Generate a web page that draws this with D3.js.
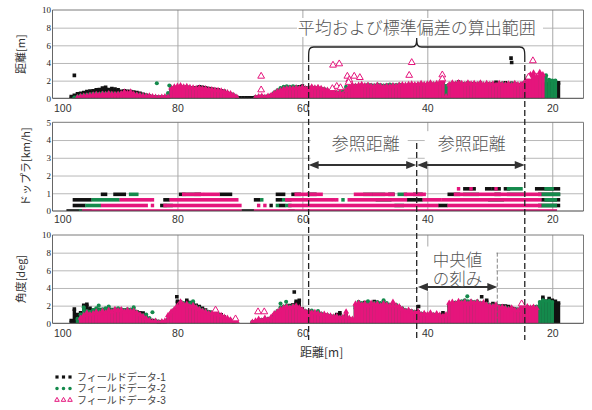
<!DOCTYPE html>
<html lang="ja">
<head>
<meta charset="utf-8">
<title>距離・ドップラ・角度</title>
<script src="https://cdn.jsdelivr.net/npm/d3@7/dist/d3.min.js"></script>
<style>
  html, body { margin: 0; padding: 0; background: #fff; }
  svg { display: block; }
</style>
</head>
<body>
<svg id="chart" width="592" height="410"></svg>
<script>
// ---- tick labels and series names ----
const xTicks = [100, 80, 60, 40, 20];
const xGridTicks = [80, 60, 40, 20];
const rangeTicks = [0, 2, 4, 6, 8, 10];
const dopplerTicks = [0, 1, 2, 3, 4, 5];
const angleTicks = [0, 2, 4, 6, 8, 10];
const seriesNames = ['フィールドデータ-1', 'フィールドデータ-2', 'フィールドデータ-3'];

// ---- sampling positions along the track [m] ----
const distances = [
  97,96.5,96,95.5,95,94.5,94,93.5,93,92.5,
  92,91.5,91,90.5,90,89.5,89,88.5,88,87.5,
  87,86.5,86,85.5,85,84.5,84,83.5,83,82.5,
  82,81.5,81,80.5,80,79.5,79,78.5,78,77.5,
  77,76.5,76,75.5,75,74.5,74,73.5,73,72.5,
  72,71.5,71,70.5,70,69.5,69,68.5,68,67.5,
  67,66.5,66,65.5,65,64.5,64,63.5,63,62.5,
  62,61.5,61,60.5,60,59.5,59,58.5,58,57.5,
  57,56.5,56,55.5,55,54.5,54,53.5,53,52.5,
  52,51.5,51,50.5,50,49.5,49,48.5,48,47.5,
  47,46.5,46,45.5,45,44.5,44,43.5,43,42.5,
  42,41.5,41,40.5,40,39.5,39,38.5,38,37.5,
  37,36.5,36,35.5,35,34.5,34,33.5,33,32.5,
  32,31.5,31,30.5,30,29.5,29,28.5,28,27.5,
  27,26.5,26,25.5,25,24.5,24,23.5,23,22.5,
  22,21.5,21,20.5,20,19.5,19,18.5,18
];

// ---- 距離 [m]: upper value of each scan column ----
const rangeBlack = [
  0.2,0.35,0.5,0.57,0.64,0.75,0.83,0.85,0.95,1.0,
  1.15,1.25,1.0,1.1,1.05,0.95,0.8,0.85,0.8,0.75,
  0.72,0.65,0.57,0.45,0.35,0.25,0.15,0.12,0.1,0.1,
  0.1,0.1,1.0,1.1,1.2,1.25,1.2,1.25,1.15,1.2,
  1.2,1.3,1.25,1.2,1.1,1.05,1.0,0.95,0.85,0.8,
  0.6,0.5,0.3,0.1,0.05,0.05,0.05,0.05,0.05,0.1,
  0.15,0.2,0.1,0.2,0.3,0.5,0.7,0.85,1.0,1.05,
  1.1,1.05,1.1,1.3,1.4,1.2,1.1,1.15,1.1,1.0,
  1.0,0.9,0.85,0.7,0.6,0.5,0.5,0.4,0.8,1.1,
  1.3,1.3,1.35,1.4,1.3,1.35,1.3,1.25,1.3,1.3,
  1.2,1.3,1.25,1.3,1.3,1.4,1.4,1.4,1.5,1.5,
  1.45,1.5,1.55,1.5,1.5,1.6,1.5,1.6,1.65,1.7,
  1.35,1.5,1.6,1.6,1.85,1.65,1.55,1.7,1.6,1.65,
  1.55,1.7,1.5,1.65,1.55,1.6,1.8,1.6,1.55,1.75,
  1.6,1.7,1.65,1.5,1.55,1.7,1.6,1.5,1.4,1.5,
  1.5,1.55,1.6,1.7,1.8,1.8,1.75,null,null
];
const rangeGreen = [
  null,0.1,0.2,0.3,0.35,0.4,0.45,0.5,0.55,0.5,
  0.6,0.55,0.6,0.55,0.5,0.55,0.6,0.6,0.55,0.6,
  0.5,0.45,0.4,0.35,0.3,0.25,0.2,0.15,0.1,0.1,
  0.1,0.6,1.15,1.25,1.3,1.35,1.25,1.3,1.2,1.15,
  1.1,1.15,1.1,1.05,1.0,0.95,0.9,0.85,0.8,0.7,
  0.6,0.5,0.3,0.1,null,null,null,null,null,0.1,
  0.2,0.2,0.15,0.25,0.35,0.65,0.9,1.15,1.3,1.35,
  1.3,1.35,1.3,1.2,1.25,1.15,1.2,1.25,1.2,1.2,
  1.1,1.05,0.9,0.8,0.7,0.65,0.7,0.8,1.3,1.2,
  1.4,1.45,1.4,1.5,1.45,1.55,1.5,1.45,1.55,1.5,
  1.45,1.5,1.55,1.5,1.5,1.55,1.5,1.45,1.55,1.5,
  1.5,1.55,1.6,1.55,1.6,1.7,1.6,1.65,1.7,1.6,
  1.4,1.5,1.7,1.6,1.7,1.65,1.6,1.7,1.6,1.65,
  1.55,1.7,1.5,1.65,1.55,1.6,1.5,1.65,1.7,1.6,
  1.6,1.65,1.6,1.5,1.55,1.7,1.9,2.2,2.3,2.2,
  2.4,2.5,2.6,2.1,2.0,2.0,null,null,null
];
const rangePink = [
  null,null,0.1,0.2,0.25,0.3,0.35,0.4,0.45,0.4,
  0.5,0.45,0.55,0.5,0.45,0.5,0.55,0.75,0.6,0.75,
  0.5,0.4,0.35,0.3,0.25,0.3,0.2,0.15,0.1,0.15,
  0.2,0.15,1.2,1.3,1.4,1.45,1.3,1.35,1.25,1.2,
  1.15,1.2,1.1,1.1,1.0,1.0,0.95,0.9,0.85,0.75,
  0.65,0.55,0.35,0.15,null,null,null,null,null,0.1,
  0.2,0.25,0.15,0.25,0.35,0.6,0.8,0.9,1.05,1.1,
  1.15,1.1,1.2,1.15,1.25,1.1,1.2,1.3,1.2,1.25,
  1.15,1.0,0.95,0.8,0.7,0.6,0.65,0.5,0.9,1.3,
  1.5,1.4,1.5,1.6,1.45,1.5,1.4,1.35,1.5,1.4,
  1.3,1.4,1.35,1.45,1.4,1.5,1.55,1.5,1.6,1.65,
  1.55,1.6,1.7,1.6,1.65,1.75,1.6,1.7,1.8,2.0,
  0.2,1.55,1.75,1.65,1.8,1.7,1.6,1.75,1.65,1.7,
  1.6,1.75,1.55,1.7,1.6,1.65,1.5,1.7,1.6,1.55,
  1.65,1.5,1.7,1.55,1.6,1.75,2.2,2.7,2.9,2.5,
  2.95,2.7,null,null,null,null,null,null,null
];
// isolated detections above the columns: [distance, value]
const rangeBlackExtra = [[96.5, 2.6], [26.6, 4.55], [26.5, 4.05]];
const rangeGreenExtra = [[83.3, 1.7], [81.3, 1.45]];
const rangePinkExtra = [
  [66.6, 2.5], [66.6, 0.95], [55.1, 3.75], [54.1, 3.9], [42.5, 4.05], [23.1, 4.25],
  [52.8, 2.5], [51.7, 2.5], [50.8, 2.35], [52.5, 2.1], [52.6, 1.8], [37.6, 2.65],
  [37.6, 2.2], [23.8, 2.4], [42.9, 2.6], [54.5, 1.35], [53.9, 1.2], [55.2, 1.1]
];

// ---- 角度 [deg]: upper value of each scan column ----
const angleBlack = [
  0.3,1.6,1.0,1.2,2.05,2.15,1.7,1.5,1.4,1.55,
  1.5,1.6,1.45,1.55,1.5,1.4,1.5,1.5,1.45,1.5,
  1.35,1.3,1.2,1.15,0.8,0.5,0.3,0.2,0.1,0.1,
  0.1,0.3,0.8,1.5,2.5,2.4,2.2,2.6,2.35,2.2,
  2.05,1.9,1.7,1.5,1.3,1.2,1.05,1.0,0.95,0.7,
  0.5,0.3,0.15,null,null,null,null,null,0.1,0.1,
  0.2,0.3,0.4,0.3,0.5,0.9,1.2,1.5,1.7,1.8,
  2.0,2.1,2.5,2.6,1.6,1.2,1.3,1.1,1.2,1.0,
  0.9,0.95,0.8,0.8,0.7,1.0,1.2,0.6,0.9,0.5,
  0.4,1.8,2.1,2.0,2.35,2.1,2.0,2.45,2.1,1.9,
  2.1,2.0,1.9,2.0,1.9,1.8,1.5,1.3,1.4,1.2,
  1.1,1.3,0.9,1.0,0.9,1.0,0.8,0.9,0.85,1.2,
  0.7,2.0,2.2,2.1,2.3,2.2,2.1,2.0,2.2,2.1,
  2.2,2.1,2.3,2.6,2.0,2.25,2.0,1.9,1.95,1.95,
  1.9,1.7,1.6,1.45,1.7,1.6,1.8,1.7,1.8,1.6,
  1.7,2.95,2.5,2.8,2.6,2.5,2.3,null,null
];
const angleGreen = [
  null,null,0.5,1.0,1.8,1.4,1.3,1.5,1.7,1.5,
  1.6,1.7,1.9,1.5,1.6,1.7,1.6,1.5,1.6,1.55,
  1.8,1.3,1.0,0.9,1.0,0.6,0.2,0.3,0.2,0.2,
  0.2,0.5,1.2,1.4,1.9,2.2,2.3,2.0,2.3,2.5,
  1.9,1.7,1.5,1.4,1.3,1.25,1.25,1.05,0.85,0.6,
  0.5,0.35,0.2,null,null,null,null,null,0.1,0.2,
  0.3,0.4,0.3,0.5,0.6,1.0,1.4,1.8,1.9,2.0,
  1.9,2.0,1.9,1.7,1.45,1.4,1.3,1.45,1.2,1.4,
  1.1,0.9,0.95,0.8,0.8,0.7,0.65,0.6,0.8,0.5,
  0.45,2.0,2.45,2.3,2.2,2.5,2.2,2.3,2.4,2.3,
  2.6,2.3,2.1,2.2,2.1,1.8,1.7,1.5,1.45,1.4,
  1.3,1.2,1.1,1.05,0.95,1.1,1.0,1.0,0.9,0.8,
  0.8,2.1,2.3,2.35,2.4,2.5,2.6,2.5,2.5,2.4,
  2.5,2.3,2.2,2.2,2.1,2.0,1.9,1.95,1.8,1.8,
  1.7,1.6,1.55,1.6,1.7,1.75,1.8,1.7,1.7,1.9,
  2.4,2.6,2.5,2.55,2.4,null,null,null,null
];
const anglePink = [
  null,null,null,0.6,0.9,1.2,1.0,1.1,1.3,1.1,
  1.4,1.2,1.5,1.3,1.6,1.45,1.55,1.3,1.5,1.35,
  1.4,1.2,1.0,0.8,0.55,0.35,0.2,0.25,0.1,0.2,
  0.3,0.9,1.3,1.6,2.0,2.45,2.1,2.2,1.9,2.05,
  1.8,1.6,1.4,1.3,1.15,1.1,1.2,1.0,0.9,0.7,
  0.6,0.4,0.25,0.2,null,null,null,null,0.15,0.3,
  0.5,0.3,0.6,0.4,0.7,1.1,1.3,1.6,1.8,1.9,
  1.75,1.9,2.0,1.8,1.5,1.3,1.35,1.2,1.25,1.1,
  1.0,1.05,0.9,0.85,0.75,0.8,0.6,0.7,1.3,0.6,
  0.5,2.2,2.3,2.1,2.25,2.0,2.3,2.15,2.2,2.0,
  2.25,2.1,2.0,2.4,2.0,1.9,1.6,1.4,1.5,1.3,
  1.2,1.35,1.0,1.15,1.0,1.2,0.9,1.1,0.95,0.8,
  1.0,2.3,2.4,2.2,2.5,2.3,2.4,2.2,2.45,2.3,
  2.4,2.2,2.35,2.1,2.0,1.9,2.1,1.8,1.85,1.7,
  1.6,1.75,1.5,1.45,1.8,1.7,1.9,1.75,1.85,1.7,
  null,null,null,null,null,null,null,null,null
];
const angleBlackExtra = [[80.1, 3.0], [61.3, 3.55], [41.4, 1.9], [31.3, 3.0]];
const angleGreenExtra = [[92.6, 2.0], [84.0, 1.25], [63.5, 2.25], [62.6, 2.45], [33.6, 3.05]];
const anglePinkExtra = [[73.9, 1.5], [70.7, 0.5], [67.1, 1.3], [66.1, 1.3], [24.9, 2.2]];

// ---- ドップラ [km/h]: runs of detections per velocity bin [level, from, to] ----
const dopplerLevels = [0, 0.31, 0.63, 0.94, 1.25];
const dopplerBlack = [
  [1.25,34.0,32.5],[1.25,30.5,30.0],[1.25,29.5,28.5],[1.25,27.5,27.0],[1.25,22.5,19.0],
  [0.94,92.0,91.5],[0.94,90.0,88.5],[0.94,79.5,79.0],[0.94,77.0,76.5],[0.94,73.0,71.5],
  [0.94,64.0,63.0],[0.94,61.5,60.5],[0.94,59.0,58.0],[0.94,46.0,45.5],[0.94,42.0,41.0],
  [0.94,36.5,35.0],[0.94,29.0,28.5],[0.94,22.0,19.0],
  [0.63,96.5,94.0],[0.63,82.0,81.5],[0.63,67.5,67.0],[0.63,64.0,63.5],[0.63,43.0,41.0],[0.63,21.5,19.0],
  [0.31,96.5,95.0],[0.31,82.5,82.0],[0.31,65.0,65.0],[0.31,63.5,63.0],[0.31,38.0,37.0],[0.31,22.0,19.0],
  [0,97.5,95.5],[0,69.5,68.0]
];
const dopplerGreen = [
  [1.25,27.0,25.0],[1.25,21.0,20.0],
  [0.94,87.5,86.5],[0.94,78.5,77.5],[0.94,50.0,47.0],[0.94,44.5,43.5],[0.94,34.0,32.0],
  [0.94,27.0,24.5],[0.94,21.5,19.0],
  [0.63,93.5,89.5],[0.63,66.5,66.5],[0.63,63.0,62.0],[0.63,53.5,53.5],[0.63,48.0,46.0],
  [0.63,30.0,28.0],[0.63,21.0,19.5],
  [0.31,94.5,92.5],[0.31,81.5,81.0],[0.31,64.0,64.0],[0.31,62.5,62.0],[0.31,45.0,44.0],[0.31,21.5,19.5],
  [0,95.5,94.0],[0,62.0,61.5]
];
const dopplerPink = [
  [1.25,35.0,35.0],[1.25,33.0,33.0],[1.25,29.0,29.0],
  [0.94,79.0,76.0],[0.94,75.5,73.5],[0.94,61.0,58.0],[0.94,57.5,57.0],[0.94,51.5,49.0],
  [0.94,48.5,45.5],[0.94,43.5,40.5],[0.94,35.5,22.0],
  [0.63,89.0,84.5],[0.63,84.0,84.0],[0.63,81.0,70.5],[0.63,62.5,55.5],[0.63,55.0,55.0],
  [0.63,54.5,54.5],[0.63,52.5,43.5],[0.63,40.5,38.0],[0.63,37.5,22.0],
  [0.31,92.0,85.0],[0.31,84.0,84.0],[0.31,82.0,70.0],[0.31,67.0,67.0],[0.31,66.0,66.0],
  [0.31,62.0,38.5],[0.31,36.5,22.0],
  [0,95.0,70.0],[0,67.5,19.5]
];

// ---- evaluation ranges along the track [m] ----
const calcRange = [59.0, 24.4];   // 平均および標準偏差の算出範囲
const refSplit = 41.7;            // boundary between the two 参照距離 windows
const medianStep = [41.5, 28.8];  // 中央値の刻み

// ---------------------------------------------------------------------------
const COLORS = ['#111111', '#148a4c', '#e5157c'];
const JP = "'Noto Sans CJK JP', 'Noto Sans', sans-serif";
const svg = d3.select('#chart');
const x = d3.scaleLinear().domain([100, 15]).range([52.5, 583.5]);
const [xL, xR] = x.range();

const symSquare = d3.symbol(d3.symbolSquare, 13)();
const symCircle = d3.symbol(d3.symbolCircle, 13)();
const symTri = d3.symbol(d3.symbolTriangle, 16)();
const symbols = [symSquare, symCircle, symTri];

const panels = [
  { id: 'range',   top: 10,    bottom: 98.3,  max: 10, ticks: rangeTicks,   title: '距離[m]',        titleX: 20, pad: 6.5,
    cols: [rangeBlack, rangeGreen, rangePink], extra: [rangeBlackExtra, rangeGreenExtra, rangePinkExtra] },
  { id: 'doppler', top: 122.3, bottom: 211,   max: 5,  ticks: dopplerTicks, title: 'ドップラ[km/h]', titleX: 25, pad: 5,
    runs: [dopplerBlack, dopplerGreen, dopplerPink] },
  { id: 'angle',   top: 235,   bottom: 323.3, max: 10, ticks: angleTicks,   title: '角度[deg]',      titleX: 20, pad: 6.5,
    cols: [angleBlack, angleGreen, anglePink], extra: [angleBlackExtra, angleGreenExtra, anglePinkExtra] }
];

const defs = svg.append('defs');

panels.forEach(p => {
  const y = d3.scaleLinear().domain([0, p.max]).range([p.bottom, p.top]);
  p.y = y;
  const g = svg.append('g').attr('class', 'panel-' + p.id);

  // horizontal grid
  g.append('g')
    .attr('transform', `translate(${xL},0)`)
    .call(d3.axisLeft(y).tickValues(p.ticks.filter(t => t > 0 && t < p.max))
      .tickSize(-(xR - xL)).tickFormat(''))
    .call(a => a.select('.domain').remove())
    .selectAll('line').attr('stroke', '#b8b8b8');

  // vertical grid
  g.append('g')
    .attr('transform', `translate(0,${p.bottom})`)
    .call(d3.axisBottom(x).tickValues(xGridTicks).tickSize(-(p.bottom - p.top)).tickFormat(''))
    .call(a => a.select('.domain').remove())
    .selectAll('line').attr('stroke', '#a8a8a8');

  // data, clipped to the plot area
  defs.append('clipPath').attr('id', 'clip-' + p.id)
    .append('rect').attr('x', xL).attr('y', p.top - 6)
    .attr('width', xR - xL).attr('height', p.bottom - p.top + 6);
  const data = g.append('g').attr('clip-path', `url(#clip-${p.id})`);

  if (p.cols) {
    p.cols.forEach((vals, s) => {
      const pts = distances.map((d, i) => ({ d, v: vals[i] })).filter(q => q.v != null);
      const sg = data.append('g').attr('fill', COLORS[s]);
      sg.selectAll('rect').data(pts).join('rect')
        .attr('x', q => x(q.d) - 1.7).attr('width', 3.4)
        .attr('y', q => y(q.v)).attr('height', q => y(0) - y(q.v));
      sg.selectAll('path').data(pts).join('path')
        .attr('transform', q => `translate(${x(q.d)},${y(q.v)})`)
        .attr('d', symbols[s]);
    });
    p.extra.forEach((pts, s) => {
      const eg = data.append('g');
      eg.selectAll('path').data(pts).join('path')
        .attr('transform', q => `translate(${x(q[0])},${y(q[1])})`)
        .attr('d', s === 2 ? d3.symbol(d3.symbolTriangle, 20)() : symbols[s])
        .attr('fill', s === 2 ? '#fff' : COLORS[s])
        .attr('stroke', s === 2 ? COLORS[2] : 'none')
        .attr('stroke-width', 1);
    });
  }

  if (p.runs) {
    p.runs.forEach((runs, s) => {
      data.append('g').attr('fill', COLORS[s])
        .selectAll('rect').data(runs).join('rect')
        .attr('x', r => x(r[1]) - 1.7)
        .attr('width', r => x(r[2]) - x(r[1]) + 3.4)
        .attr('y', r => y(r[0]) - 1.8)
        .attr('height', 3.6);
    });
  }

  // frame
  g.append('path')
    .attr('d', `M${xL},${p.top}H${xR}V${p.bottom}`)
    .attr('fill', 'none').attr('stroke', '#7a7a7a');
  g.append('line').attr('x1', xL).attr('x2', xL).attr('y1', p.top).attr('y2', p.bottom)
    .attr('stroke', '#666');
  g.append('line').attr('x1', xL).attr('x2', xR).attr('y1', p.bottom).attr('y2', p.bottom)
    .attr('stroke', '#444');

  // y tick labels
  const ya = g.append('g')
    .attr('transform', `translate(${xL},0)`)
    .call(d3.axisLeft(y).tickValues(p.ticks).tickSize(0).tickPadding(1.5).tickFormat(d3.format('d')));
  ya.select('.domain').remove();
  ya.selectAll('text')
    .attr('font-family', "'Liberation Serif', serif")
    .attr('font-size', 9).attr('fill', '#222');

  // x tick labels
  const xa = g.append('g')
    .attr('transform', `translate(0,${p.bottom})`)
    .call(d3.axisBottom(x).tickValues(xTicks).tickSize(0).tickPadding(p.pad).tickFormat(d3.format('d')));
  xa.select('.domain').remove();
  xa.selectAll('text')
    .attr('font-family', "'Liberation Sans', Arial, sans-serif")
    .attr('font-size', 10.5).attr('fill', '#333')
    .filter(d => d === 100).attr('text-anchor', 'start').attr('dx', 1);

  // y axis title
  g.append('text')
    .attr('transform', `translate(${p.titleX},${(p.top + p.bottom) / 2}) rotate(-90)`)
    .attr('text-anchor', 'middle').attr('dominant-baseline', 'central')
    .attr('font-family', JP).attr('font-size', 11).attr('fill', '#333')
    .text(p.title);
});

// x axis title
svg.append('text')
  .attr('x', 300).attr('y', 357)
  .attr('font-family', JP).attr('font-size', 12).attr('fill', '#333')
  .text('距離[m]');

// ---- annotations ----
const ann = svg.append('g');
const xa0 = x(calcRange[0]), xa1 = x(calcRange[1]), xm = x(refSplit);
const xs0 = x(medianStep[0]), xs1 = x(medianStep[1]);
const yDop = panels[1].y, yAng = panels[2].y;

// label backgrounds
ann.append('rect').attr('x', 297).attr('y', 18).attr('width', 246).attr('height', 19).attr('fill', '#fff');
ann.append('rect').attr('x', xa0 + 2).attr('y', yDop(4.5)).attr('width', xm - xa0 - 11).attr('height', 31).attr('fill', '#fff');
ann.append('rect').attr('x', xm + 8).attr('y', yDop(4.5)).attr('width', xa1 - xm - 10).attr('height', 31).attr('fill', '#fff');
ann.append('rect').attr('x', xs0).attr('y', yAng(8.7)).attr('width', xs1 - xs0 - 1).attr('height', 45).attr('fill', '#fff');

// dashed range bounds
[[xa0, 56], [xa1, 56], [xm, 143]].forEach(([xx, y0]) => {
  ann.append('line').attr('x1', xx).attr('x2', xx).attr('y1', y0).attr('y2', 340)
    .attr('stroke', '#222').attr('stroke-width', 1.3).attr('stroke-dasharray', '6,3');
});
// thin bound of the median step
ann.append('line').attr('x1', xs1).attr('x2', xs1).attr('y1', yAng(8)).attr('y2', yAng(0))
  .attr('stroke', '#666').attr('stroke-width', 0.8).attr('stroke-dasharray', '4,2');

// brace over the calculation range
ann.append('path')
  .attr('d', `M${xa0},56 C${xa0},49 ${xa0 + 1},47 ${xa0 + 5},47 L${xm - 5},47 C${xm - 1},47 ${xm},45 ${xm},38 ` +
             `C${xm},45 ${xm + 1},47 ${xm + 5},47 L${xa1 - 5},47 C${xa1 - 1},47 ${xa1},49 ${xa1},56`)
  .attr('fill', 'none').attr('stroke', '#222').attr('stroke-width', 1.3);

// double-headed arrows
function arrow(x0, x1, yy) {
  const h = 10, w = 4;
  ann.append('line').attr('x1', x0 + h - 1).attr('x2', x1 - h + 1).attr('y1', yy).attr('y2', yy)
    .attr('stroke', '#333').attr('stroke-width', 2);
  ann.append('path').attr('d', `M${x0},${yy}L${x0 + h},${yy - w}L${x0 + h},${yy + w}Z`).attr('fill', '#333');
  ann.append('path').attr('d', `M${x1},${yy}L${x1 - h},${yy - w}L${x1 - h},${yy + w}Z`).attr('fill', '#333');
}
arrow(xa0, xm - 0.5, 165);
arrow(xm + 0.5, xa1, 165);
arrow(xs0, xs1, 287);

const annText = (tx, ty, s) => ann.append('text')
  .attr('x', tx).attr('y', ty).attr('text-anchor', 'middle')
  .attr('font-family', JP).attr('font-weight', 300).attr('font-size', 17).attr('fill', '#555')
  .text(s);
annText(xm, 34, '平均および標準偏差の算出範囲');
annText((xa0 + xm) / 2 + 3, 150, '参照距離');
annText((xm + xa1) / 2 + 1, 150, '参照距離');

// two-line label of the median step
const medText = ann.append('text')
  .attr('text-anchor', 'middle')
  .attr('font-family', "'Liberation Sans', 'Noto Sans CJK JP', sans-serif")
  .attr('font-weight', 300).attr('font-size', 16.5).attr('fill', '#555');
medText.append('tspan').attr('x', (xs0 + xs1) / 2).attr('y', 265.5).text('中央値');
medText.append('tspan').attr('x', (xs0 + xs1) / 2).attr('y', 284.5).text('の刻み');

// ---- legend ----
const legend = svg.append('g');
seriesNames.forEach((name, s) => {
  const ly = 377 + s * 11.5;
  [57, 63.5, 70].forEach(lx => {
    legend.append('path')
      .attr('transform', `translate(${lx},${ly})`)
      .attr('d', s === 2 ? d3.symbol(d3.symbolTriangle, 9)() : d3.symbol(s === 0 ? d3.symbolSquare : d3.symbolCircle, 10)())
      .attr('fill', s === 2 ? '#fff' : COLORS[s])
      .attr('stroke', s === 2 ? COLORS[2] : 'none').attr('stroke-width', 1);
  });
  legend.append('text')
    .attr('x', 77).attr('y', ly).attr('dominant-baseline', 'central')
    .attr('font-family', "'Liberation Sans', 'Noto Sans CJK JP', sans-serif")
    .attr('font-size', 10).attr('fill', '#444')
    .text(name);
});
</script>
</body>
</html>
